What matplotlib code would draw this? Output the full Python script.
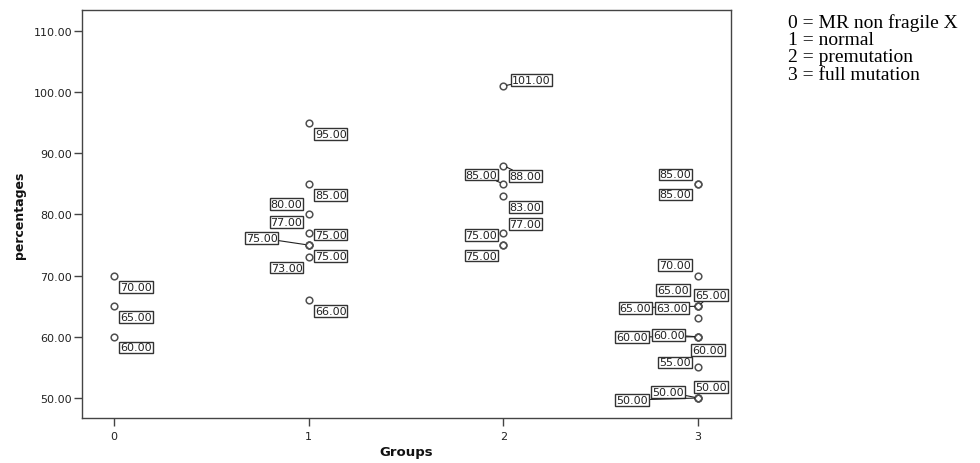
import numpy as np
import matplotlib
matplotlib.use("Agg")
import matplotlib.pyplot as plt


# ------------------------------------------------------------
# 1. Data
# ------------------------------------------------------------

groups = [0, 0, 0,
          1, 1, 1, 1, 1, 1, 1, 1, 1,
          2, 2, 2, 2, 2, 2, 2,
          3, 3, 3, 3, 3, 3, 3, 3, 3, 3, 3, 3, 3, 3]

percentages = [70, 65, 60,
               95, 85, 80, 77, 75, 75, 75, 73, 66,
               101, 88, 85, 83, 77, 75, 75,
               85, 85, 70, 65, 65, 65, 63, 60, 60, 60, 55, 50, 50, 50]

y_ticks = [50, 60, 70, 80, 90, 100, 110]
x_ticks = [0, 1, 2, 3]

legend_lines = ["0 = MR non fragile X",
                "1 = normal",
                "2 = premutation",
                "3 = full mutation"]


# ------------------------------------------------------------
# 2. Label placement (pixels): anchored box edge, side, vertical
#    offset of box centre (down = positive), leader line flag
# ------------------------------------------------------------

label_dx = [5, 5, 5,
            5, 5, -5, -5, 5, -30, 5, -5, 5,
            7.5, 5, -5, 5, 5, -5, -5,
            -5.5, -5.5, -6, -8, -4, -45.7, -9, -49, -12.3, -7.3, -6, -4, -13, -49]
label_ha = ["left", "left", "left",
            "left", "left", "right", "right", "left", "right", "left", "right", "left",
            "left", "left", "right", "left", "left", "right", "right",
            "right", "right", "right", "right", "left", "right", "right",
            "right", "right", "left", "right", "left", "right", "right"]
label_dy = [11, 11, 10.6,
            11, 11, -10.4, -10.5, -10.5, -7, 11, 10.3, 11,
            -6, 10.8, -9.3, 11, -9, -10, 10.5,
            -9.5, 10.5, -11, -16, -11.5, 1.5, -10.3, 0, -2, 13, -5, -11, -6, 2]
leader = [False, False, False,
          False, False, False, False, False, True, False, False, False,
          True, True, True, False, False, False, False,
          False, False, False, False, True, True, False, True, True, False, False,
          False, True, True]


# ------------------------------------------------------------
# 3. Plot
# ------------------------------------------------------------

W, H = 980, 464
fig = plt.figure(figsize=(W / 100, H / 100), dpi=100)
ax = fig.add_axes([82 / W, 1 - 419 / H, (731 - 82) / W, (419 - 11) / H])

ax.plot(groups, percentages, linestyle="none", marker="o", markersize=4.8,
        markerfacecolor="none", markeredgecolor="#505050", markeredgewidth=1.1,
        zorder=2)

pad_px = 1.2
for g, v, dx, ha, dy, ld in zip(groups, percentages, label_dx, label_ha,
                                label_dy, leader):
    tx = dx + pad_px if ha == "left" else dx - pad_px
    arrow = None
    if ld:
        arrow = dict(arrowstyle="-", color="#222222", lw=0.8,
                     shrinkA=0, shrinkB=2.5)
    ax.annotate(f"{v:.2f}", xy=(g, v), xytext=(tx, -dy),
                textcoords="offset pixels", ha=ha, va="center",
                fontsize=8, color="#222222", family="DejaVu Sans",
                bbox=dict(boxstyle="square,pad=0.08", fc="white",
                          ec="#333333", lw=1.0),
                arrowprops=arrow, zorder=3)

ax.set_xlim(-0.164, 3.169)
ax.set_ylim(46.73, 113.43)
ax.set_xticks(x_ticks)
ax.set_xticklabels([str(t) for t in x_ticks])
ax.set_yticks(y_ticks)
ax.set_yticklabels([f"{t:.2f}" for t in y_ticks])

for side in ["left", "bottom", "top", "right"]:
    ax.spines[side].set_color("#444444")
    ax.spines[side].set_linewidth(1.0)
ax.tick_params(axis="both", direction="out", length=6, width=1.0,
               color="#444444", labelsize=8, labelcolor="#222222")
ax.tick_params(axis="y", pad=1)
ax.tick_params(axis="x", pad=3)

fig.text(20 / W, 1 - 215 / H, "percentages", rotation=90, ha="center",
         va="center", fontsize=9, fontweight="bold", color="#111111")
fig.text(406 / W, 1 - 453 / H, "Groups", ha="center", va="center",
         fontsize=9.5, fontweight="bold", color="#111111")

# group legend on the right, one text block
fig.text(788 / W, 1 - 14 / H, "\n".join(legend_lines), ha="left", va="top",
         fontsize=14, family="Liberation Serif", color="black",
         linespacing=1.02)

plt.savefig("out.png", dpi=100)
